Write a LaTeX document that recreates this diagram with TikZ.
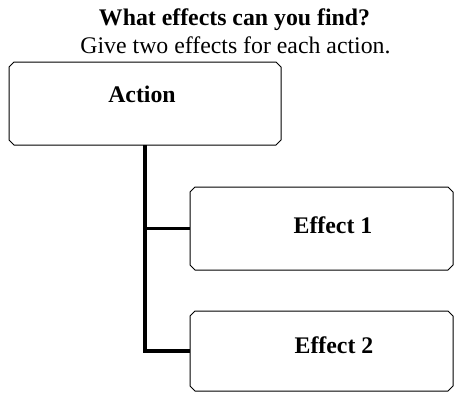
\documentclass[tikz,border=0pt]{standalone}
\usepackage{fontspec}
\setmainfont{Liberation Serif}
% outline of a box with cut-off corners, traced round a named node
\newcommand\chamferbox[1]{%
  \draw[boxline] ([xshift=5pt]#1.north west) -- ([xshift=-5pt]#1.north east)
    -- ([yshift=-5pt]#1.north east) -- ([yshift=5pt]#1.south east)
    -- ([xshift=-5pt]#1.south east) -- ([xshift=5pt]#1.south west)
    -- ([yshift=5pt]#1.south west) -- ([yshift=-5pt]#1.north west) -- cycle;}
\begin{document}
\begin{tikzpicture}[x=1pt,y=1pt,
  box/.style={rectangle,inner sep=0pt,outer sep=0pt,anchor=north west},
  boxline/.style={draw=black,line width=1pt,line join=miter},
  txt/.style={font=\fontsize{23.8}{28}\selectfont,anchor=base,inner sep=0pt},
  btxt/.style={txt,font=\fontsize{23.8}{28}\selectfont\bfseries},
  conn/.style={line width=3.6pt,line join=miter}]
\useasboundingbox (0,0) rectangle (454,-392);
% heading
\node[btxt] (title) at (234.5,-25) {What effects can you find?};
\node[txt] (sub) at (235.5,-53) {Give two effects for each action.};
% boxes
\node[box,minimum width=272pt,minimum height=83pt] (act) at (9,-62) {};
\node[box,minimum width=263pt,minimum height=83pt] (e1) at (190,-187) {};
\node[box,minimum width=263pt,minimum height=80pt] (e2) at (190,-311) {};
\chamferbox{act}
\chamferbox{e1}
\chamferbox{e2}
% box labels
\node[btxt] (actlbl) at (142,-102) {Action};
\node[btxt] (e1lbl) at (333,-233) {Effect 1};
\node[btxt] (e2lbl) at (334,-353) {Effect 2};
% connectors
\draw[conn] (act.south) |- (e2.west);
\draw[conn] (act.south |- e1.west) -- (e1.west);
\end{tikzpicture}
\end{document}
